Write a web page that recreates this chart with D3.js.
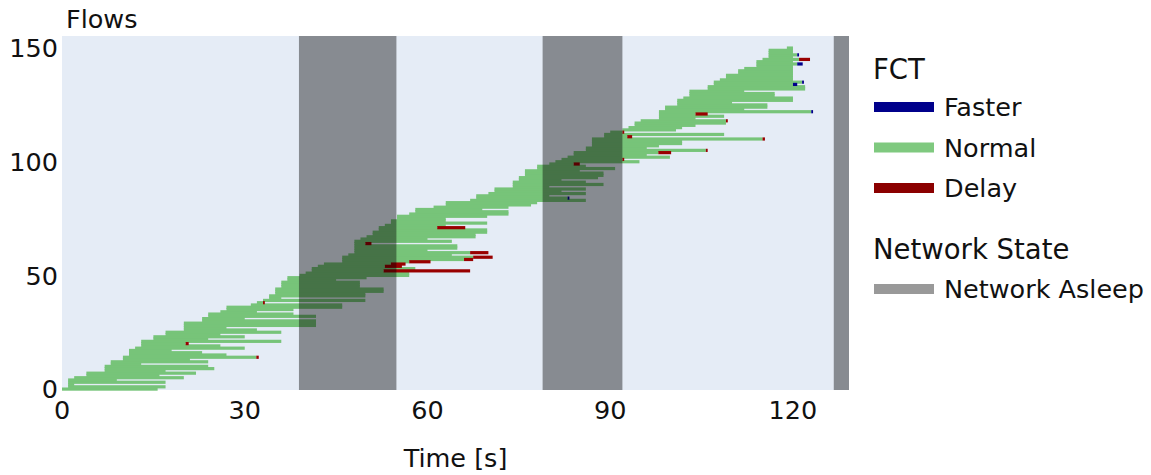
<!DOCTYPE html>
<html><head><meta charset="utf-8">
<script src="https://cdn.jsdelivr.net/npm/d3@7"></script>
<style>body{margin:0;background:#fff}svg{display:block}text{font-family:"DejaVu Sans",sans-serif;fill:#111}</style>
</head><body><svg id="c" width="1151" height="475"></svg>
<script>
// flow start times [s] (one row per flow, sorted by start)
const flowStart = [0,1,1,1,1,2,4,4,7,7,7,8,8,10,10,11,11,11,12,13,13,13,15,15,17,17,20,20,20,20,23,23,24,24,26,27,27,31,32,33,34,34,35,35,35,36,36,36,37,37,39,40,41,41,42,43,46,46,46,47,48,48,48,48,48,48,49,50,51,51,52,52,53,54,54,55,55,57,58,58,61,63,63,67,68,68,70,71,71,74,74,74,75,75,76,76,76,78,78,80,81,82,83,84,84,86,86,87,87,87,87,89,89,90,92,93,94,94,95,98,98,98,98,99,99,101,101,101,102,103,103,103,106,106,107,107,108,109,109,111,111,112,114,114,114,115,116,116,116,116,119];
// end of the normal (green) part [s]
const flowEnd = [15.7,17,2,17,9,20,16,22,17,25,24,13,24,21,31.9,27,23,18,30,26,20.3,36,24,30,26,36,32,27,41.7,41.7,41.7,30,41.7,38,32,38,46,46,33,49.8,36,49.8,49.8,52.8,52.8,48.9,48.9,48.9,45,50,57,57,52.8,58,53,54,57,66,67.5,64,67,60,64.9,64.9,49.8,64,60,67.9,67.9,69.8,69.8,61.6,63,69.8,63,63,69.8,73.3,73.3,69,73.3,77,78,86,83,80,86,82,86,80,88.9,86,82,88,88.9,88.9,85,90.8,86,84,94.8,92,99.8,96,97.9,105.7,96,98,101.8,101.8,115,92.8,108.7,92,100.8,101.8,104,109,109,104,108.7,104,123,112,115.8,115.8,110,120,120,117,117,112,122,122,120,121.5,120,120,120,120,120,120,120,120.7,120,121,120,120.7,120,120,120];
// extra segments beyond the normal part: flow index, kind (d = delay, f = faster), end [s]
const extraFlow = [14,20,38,52,54,55,56,57,58,60,64,71,84,99,101,104,105,110,111,113,118,121,122,134,135,143,145,147];
const extraKind = ["d","d","d","d","d","d","d","d","d","d","d","d","f","d","d","d","d","d","d","d","d","d","f","f","f","f","d","f"];
const extraEnd  = [32.3,20.8,33.3,67,55.8,56.4,60.5,67.5,70.7,70,50.8,66.2,83.3,85,92.3,100,106,115.4,93.6,92.3,109.3,106,123.3,120.7,121.8,121.6,122.8,121];
// network asleep periods [s]
const sleepStart = [38.9, 78.9, 126.7];
const sleepEnd   = [54.9, 92.0, 129.2];
const xTicks = [0,30,60,90,120];
const yTicks = [0,50,100,150];
const legendFct = [{name:"Faster",color:"#00008b"},{name:"Normal",color:"#7fc97f"},{name:"Delay",color:"#8b0000"}];

const svg = d3.select("#c");
const L=62,R=849,T=36,B=390;
const x = d3.scaleLinear().domain([0,129.2]).range([L,R]);
const y = d3.scaleLinear().domain([-0.4,155.3]).range([B,T]);
const FS=25.5;
svg.append("rect").attr("x",L).attr("y",T).attr("width",R-L).attr("height",B-T).attr("fill","#e5ecf6");
const lw=3.2;
const g=svg.append("g");
flowStart.forEach((s,i)=>{
  g.append("rect").attr("x",x(s)).attr("y",y(i)-lw/2).attr("width",Math.max(0.6,x(flowEnd[i])-x(s))).attr("height",lw).attr("fill","#77c479");
});
extraFlow.forEach((f,k)=>{
  const a=flowEnd[f], b=extraEnd[k];
  g.append("rect").attr("x",x(Math.min(a,b))).attr("y",y(f)-lw/2).attr("width",Math.max(1.2,Math.abs(x(b)-x(a)))).attr("height",lw)
   .attr("fill",extraKind[k]==="d"?"#990000":"#00008b");
});
sleepStart.forEach((s,i)=>{
  svg.append("rect").attr("x",x(s)).attr("y",T).attr("width",x(sleepEnd[i])-x(s)).attr("height",B-T).attr("fill","#000").attr("opacity",0.41);
});
// axes
xTicks.forEach(t=>svg.append("text").attr("x",x(t)).attr("y",419).attr("text-anchor","middle").attr("font-size",FS).text(t));
yTicks.forEach(t=>svg.append("text").attr("x",58).attr("y",y(t)).attr("dy","0.36em").attr("text-anchor","end").attr("font-size",FS).text(t));
svg.append("text").attr("x",66).attr("y",28).attr("font-size",FS).text("Flows");
svg.append("text").attr("x",(L+R)/2).attr("y",467).attr("text-anchor","middle").attr("font-size",FS).text("Time [s]");
// legend
const lg=svg.append("g");
lg.append("text").attr("x",873).attr("y",79).attr("font-size",27.5).text("FCT");
legendFct.forEach((d,i)=>{
  const yy=107+i*40.5;
  lg.append("rect").attr("x",874).attr("y",yy-5).attr("width",60).attr("height",10).attr("fill",d.color);
  lg.append("text").attr("x",944).attr("y",yy).attr("dy","0.36em").attr("font-size",FS).text(d.name);
});
lg.append("text").attr("x",873).attr("y",259).attr("font-size",27.5).text("Network State");
lg.append("rect").attr("x",874).attr("y",284).attr("width",60).attr("height",10).attr("fill","#999");
lg.append("text").attr("x",944).attr("y",289).attr("dy","0.36em").attr("font-size",FS).text("Network Asleep");
</script></body></html>
